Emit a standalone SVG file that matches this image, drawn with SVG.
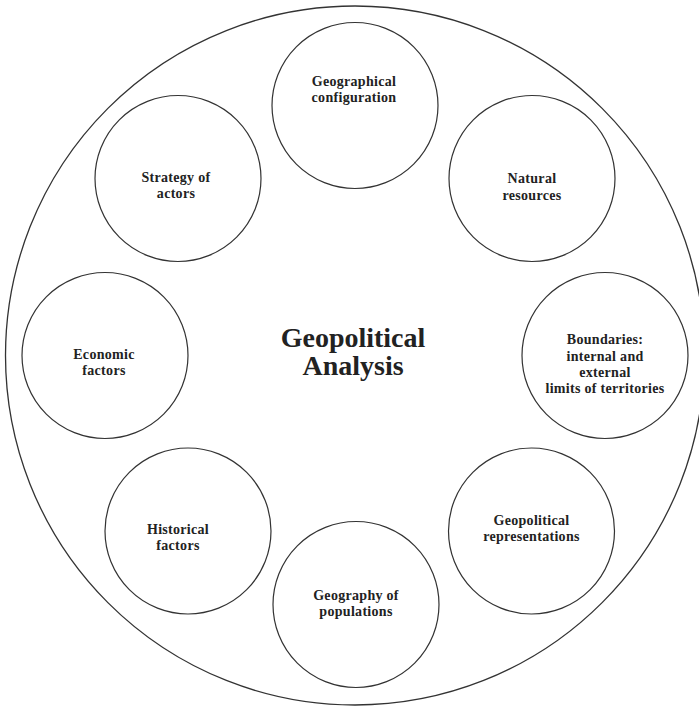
<svg xmlns="http://www.w3.org/2000/svg" width="699" height="707" viewBox="0 0 699 707">
<style>
.outer{fill:#fff;stroke:#333;stroke-width:1.3}
.node circle{fill:#fff;stroke:#333;stroke-width:1.2}
.lbl{font-family:"Liberation Serif","Times New Roman",serif;font-weight:bold;font-size:14px;fill:#222;text-anchor:middle;letter-spacing:0.3px}
.title{font-family:"Liberation Serif","Times New Roman",serif;font-weight:bold;font-size:28px;fill:#222;text-anchor:middle}
</style>
<rect width="699" height="707" fill="#fff"/>
<g id="analysis">
<circle class="outer" cx="355" cy="355.5" r="349.5"/>
<text class="title" x="353" y="347">Geopolitical</text>
<text class="title" x="353" y="375">Analysis</text>
</g>
<g id="connectors"></g>
<g id="geographical-configuration" class="node">
<circle cx="355" cy="105.5" r="83"/>
<text class="lbl" x="354" y="86">Geographical</text>
<text class="lbl" x="354" y="101.5">configuration</text>
</g>
<g id="natural-resources" class="node">
<circle cx="532" cy="178.5" r="83"/>
<text class="lbl" x="532" y="183">Natural</text>
<text class="lbl" x="532" y="199.5">resources</text>
</g>
<g id="boundaries" class="node">
<circle cx="605" cy="355.5" r="83"/>
<text class="lbl" x="605" y="344">Boundaries:</text>
<text class="lbl" x="605" y="360.5">internal and</text>
<text class="lbl" x="605" y="377">external</text>
<text class="lbl" x="605" y="393">limits of territories</text>
</g>
<g id="geopolitical-representations" class="node">
<circle cx="531.5" cy="531" r="83"/>
<text class="lbl" x="531.5" y="525">Geopolitical</text>
<text class="lbl" x="531.5" y="541">representations</text>
</g>
<g id="geography-of-populations" class="node">
<circle cx="356" cy="604.5" r="83"/>
<text class="lbl" x="356" y="600">Geography of</text>
<text class="lbl" x="356" y="615.5">populations</text>
</g>
<g id="historical-factors" class="node">
<circle cx="188" cy="531" r="83"/>
<text class="lbl" x="178" y="533.5">Historical</text>
<text class="lbl" x="178" y="550">factors</text>
</g>
<g id="economic-factors" class="node">
<circle cx="105" cy="355.5" r="83"/>
<text class="lbl" x="104" y="359">Economic</text>
<text class="lbl" x="104" y="375">factors</text>
</g>
<g id="strategy-of-actors" class="node">
<circle cx="178" cy="178.5" r="83"/>
<text class="lbl" x="176" y="182">Strategy of</text>
<text class="lbl" x="176" y="198">actors</text>
</g>
</svg>
